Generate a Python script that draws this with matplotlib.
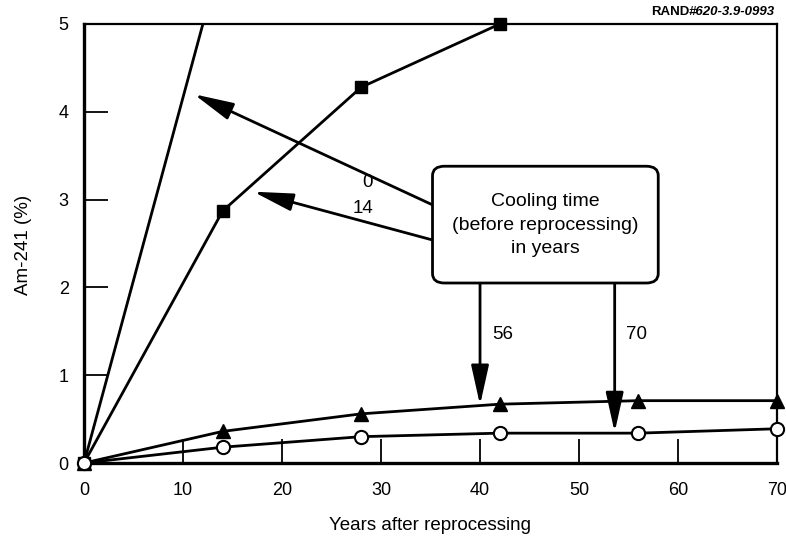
import numpy as np
from matplotlib import pyplot as plt
from matplotlib.patches import FancyBboxPatch

plt.rcParams['font.family'] = ['Liberation Sans', 'DejaVu Sans']

# Am-241 (%) vs years after reprocessing, for several cooling times
years = [0, 14, 28, 42, 56, 70]
cool_0_x = [0, 14]
cool_0 = [0, 5.83]
cool_14_x = [0, 14, 28, 42]
cool_14 = [0, 2.87, 4.28, 5.0]
cool_56 = [0, 0.36, 0.56, 0.67, 0.71, 0.71]
cool_70 = [0, 0.18, 0.30, 0.34, 0.34, 0.39]

x_ticks = [0, 10, 20, 30, 40, 50, 60, 70]
y_ticks = [0, 1, 2, 3, 4, 5]

fig = plt.figure(figsize=(7.86, 5.38), dpi=100)
ax = fig.add_axes([0.1069, 0.1394, 0.8817, 0.816])

lw = 2.0
ax.plot(cool_0_x, cool_0, color='black', lw=lw)
ax.plot(cool_14_x, cool_14, color='black', lw=lw)
ax.plot(years, cool_56, color='black', lw=lw)
ax.plot(years, cool_70, color='black', lw=lw)

ax.plot(cool_14_x, cool_14, ls='none', marker='s', ms=9, color='black', clip_on=False, zorder=4)
ax.plot(years, cool_56, ls='none', marker='^', ms=10, color='black', clip_on=False, zorder=4)
ax.plot(years, cool_70, ls='none', marker='o', ms=9.5, mfc='white', mec='black', mew=1.5,
        clip_on=False, zorder=5)

ax.set_xlim(0, 70)
ax.set_ylim(0, 5)
ax.set_xticks(x_ticks)
ax.set_yticks(y_ticks)
ax.tick_params(direction='in', length=17, width=1.3, labelsize=13)
ax.tick_params(axis='x', pad=14)
ax.tick_params(axis='y', pad=11)
for s in ['left', 'bottom']:
    ax.spines[s].set_linewidth(2.4)
for s in ['top', 'right']:
    ax.spines[s].set_linewidth(1.6)

fig.text(430 / 786, 1 - 525 / 538, 'Years after reprocessing', ha='center', va='center', fontsize=13.5)
fig.text(24 / 786, 1 - 245 / 538, 'Am-241 (%)', rotation=90, ha='center', va='center', fontsize=13.5)

# call-out box
box = FancyBboxPatch((35.2, 2.05), 22.8, 1.33, boxstyle='round,pad=0.0,rounding_size=1.2',
                     mutation_aspect=0.09, fc='white', ec='black', lw=2.0, zorder=6)
ax.add_patch(box)
ax.text(46.6, 2.71, 'Cooling time\n(before reprocessing)\nin years', ha='center', va='center',
        fontsize=14, linespacing=1.5, zorder=7)

arrow = dict(arrowstyle='-|>,head_length=1.35,head_width=0.3', color='black', lw=2.0,
             shrinkA=0, shrinkB=0, mutation_scale=18)
ax.annotate('', xy=(11.1, 4.2), xytext=(35.2, 2.94), arrowprops=arrow, zorder=5)
ax.annotate('', xy=(17.1, 3.09), xytext=(35.2, 2.54), arrowprops=arrow, zorder=5)
ax.annotate('', xy=(40.0, 0.66), xytext=(40.0, 2.05), arrowprops=arrow, zorder=5)
ax.annotate('', xy=(53.6, 0.35), xytext=(53.6, 2.05), arrowprops=arrow, zorder=5)

ax.text(28.6, 3.19, '0', ha='center', va='center', fontsize=13.5)
ax.text(28.2, 2.9, '14', ha='center', va='center', fontsize=13.5)
ax.text(42.3, 1.46, '56', ha='center', va='center', fontsize=13.5)
ax.text(55.8, 1.46, '70', ha='center', va='center', fontsize=13.5)

t = fig.text(775 / 786, 1 - 12 / 538, '#620-3.9-0993', ha='right', va='center',
             fontsize=9.5, fontweight='bold', style='italic')
ax.annotate('RAND', xy=(0, 0.5), xycoords=t, ha='right', va='center',
            fontsize=9.5, fontweight='bold', annotation_clip=False)

fig.savefig('out.png', dpi=100)
